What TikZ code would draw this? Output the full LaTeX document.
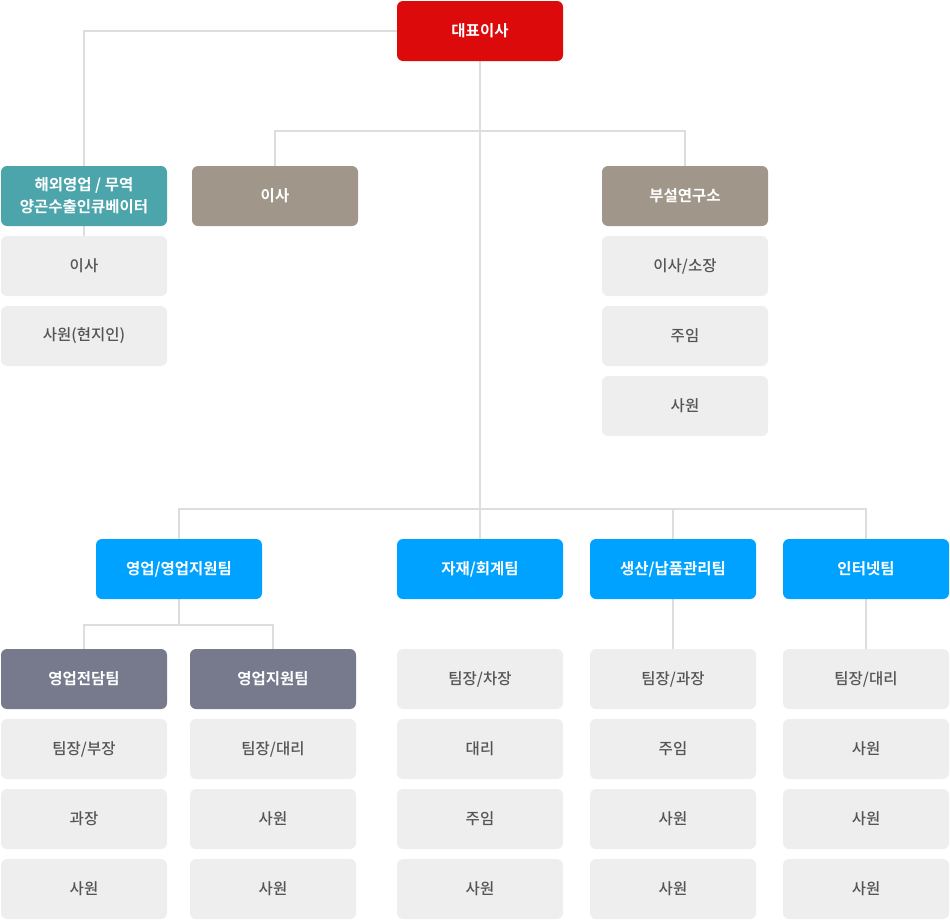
\documentclass[tikz,border=0pt]{standalone}
\usepackage{fontspec}
\usetikzlibrary{backgrounds}
\setmainfont{Noto Sans CJK KR}
\newfontfamily\krb{Noto Sans CJK KR Bold}
\newfontfamily\krm{Noto Sans CJK KR Medium}
\definecolor{cred}{HTML}{DD0A0B}
\definecolor{cteal}{HTML}{4BA5AB}
\definecolor{ctaupe}{HTML}{A1968A}
\definecolor{cblue}{HTML}{00A2FF}
\definecolor{cslate}{HTML}{767A8C}
\definecolor{cgray}{HTML}{EEEEEE}
\definecolor{ctext}{HTML}{555555}
\definecolor{cline}{HTML}{DDDDDD}
\tikzset{
  box/.style={rounded corners=6pt, minimum width=166pt, minimum height=60pt, inner sep=0pt, align=center},
  headbox/.style={box, fill=#1, text=white, font=\krb\fontsize{15.5}{22}\selectfont},
  graybox/.style={box, fill=cgray, text=ctext, font=\krm\fontsize{15.5}{22}\selectfont},
  conn/.style={draw=cline, line width=2pt}
}
\begin{document}
\begin{tikzpicture}[x=1pt,y=1pt]
\useasboundingbox (0,0) rectangle (950,-919);
% top
\node[headbox=cred] (ceo) at (480,-31) {대표이사};
\node[headbox=cteal] (ovs) at (84,-196) {해외영업 / 무역\\양곤수출인큐베이터};
\node[headbox=ctaupe] (dir) at (275,-196) {이사};
\node[headbox=ctaupe] (lab) at (685,-196) {부설연구소};
\node[graybox] (ovs1) at (84,-266) {이사};
\node[graybox] (ovs2) at (84,-336) {사원(현지인)};
\node[graybox] (lab1) at (685,-266) {이사/소장};
\node[graybox] (lab2) at (685,-336) {주임};
\node[graybox] (lab3) at (685,-406) {사원};
% teams
\node[headbox=cblue] (sales) at (179,-569) {영업/영업지원팀};
\node[headbox=cblue] (mat) at (480,-569) {자재/회계팀};
\node[headbox=cblue] (prod) at (673,-569) {생산/납품관리팀};
\node[headbox=cblue] (web) at (866,-569) {인터넷팀};
\node[headbox=cslate] (s1) at (84,-679) {영업전담팀};
\node[headbox=cslate] (s2) at (273,-679) {영업지원팀};
\node[graybox] (s1a) at (84,-749) {팀장/부장};
\node[graybox] (s1b) at (84,-819) {과장};
\node[graybox] (s1c) at (84,-889) {사원};
\node[graybox] (s2a) at (273,-749) {팀장/대리};
\node[graybox] (s2b) at (273,-819) {사원};
\node[graybox] (s2c) at (273,-889) {사원};
\node[graybox] (m1) at (480,-679) {팀장/차장};
\node[graybox] (m2) at (480,-749) {대리};
\node[graybox] (m3) at (480,-819) {주임};
\node[graybox] (m4) at (480,-889) {사원};
\node[graybox] (p1) at (673,-679) {팀장/과장};
\node[graybox] (p2) at (673,-749) {주임};
\node[graybox] (p3) at (673,-819) {사원};
\node[graybox] (p4) at (673,-889) {사원};
\node[graybox] (w1) at (866,-679) {팀장/대리};
\node[graybox] (w2) at (866,-749) {사원};
\node[graybox] (w3) at (866,-819) {사원};
\node[graybox] (w4) at (866,-889) {사원};
% connectors (behind boxes)
\coordinate (busY) at (0,-509);
\coordinate (labY) at (0,-131);
\coordinate (salesY) at (0,-625);
\begin{scope}[on background layer]
\draw[conn] (ceo.west) -| (ovs1.north);
\draw[conn] (ceo.south) -- (mat.north);
\draw[conn] (dir.north) |- (labY -| ceo.south) -| (lab.north);
\draw[conn] (sales.north) |- (busY -| web.north) -- (web.north);
\draw[conn] (busY -| prod.north) -- (prod.north);
\draw[conn] (sales.south) -- (salesY -| sales.south);
\draw[conn] (s1.north) |- (salesY -| s2.north) -- (s2.north);
\draw[conn] (prod.south) -- (p1.north);
\draw[conn] (web.south) -- (w1.north);
\end{scope}
\end{tikzpicture}
\end{document}
